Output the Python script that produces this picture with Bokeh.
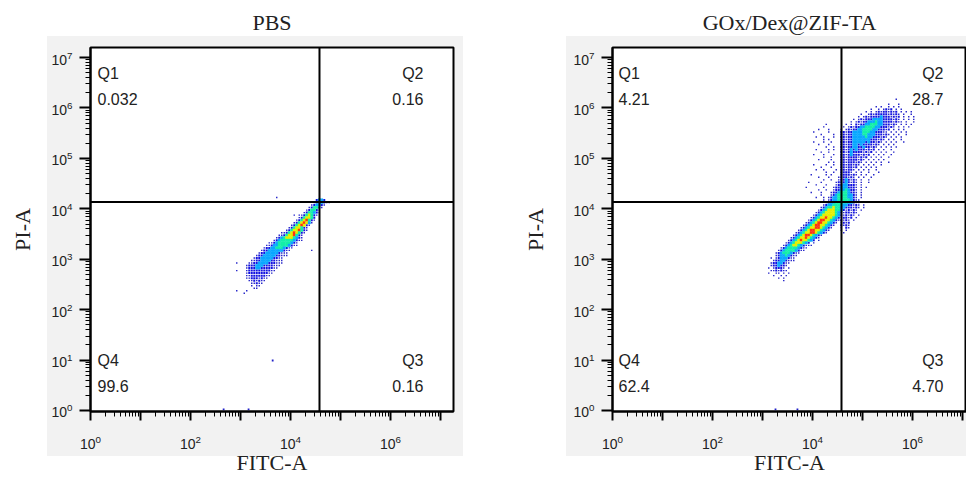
from bokeh.plotting import figure
from bokeh.models import Span, FixedTicker, ColumnDataSource, Title
from bokeh.layouts import row
from bokeh.embed import file_html
from bokeh.resources import INLINE
from bokeh.core.properties import value

# ---------------- data ----------------
TITLES = ["PBS", "GOx/Dex@ZIF-TA"]
X_LABEL = "FITC-A"
Y_LABEL = "PI-A"
QUAD_NAMES = ["Q1", "Q2", "Q3", "Q4"]
PBS_PCT = ["0.032", "0.16", "0.16", "99.6"]
GOX_PCT = ["4.21", "28.7", "4.70", "62.4"]
GATE_X = 38000
GATE_Y = 13600
MAJOR_TICKS = [1, 10, 100, 1e3, 1e4, 1e5, 1e6, 1e7]
X_HIDDEN_LABELS = [10, 1e3, 1e5, 1e7]

# density map: (log10 of column-0 left edge, log10 of row-0 top edge, cell size in decades)
# each row entry: (row index, first column, density levels; '.' empty, 1 sparse .. 6 densest)
PBS_GRID = (2.70, 4.35, 0.05)
PBS_ROWS = [
    (2, 20, "1"),
    (3, 36, "2332"),
    (4, 35, "1233211"),
    (5, 34, "123321"),
    (6, 33, "124421"),
    (7, 32, "124421"),
    (8, 31, "1244321"),
    (9, 27, "1.11245421"),
    (10, 29, "1245542"),
    (11, 28, "12456421"),
    (12, 27, "12456531"),
    (13, 26, "12456521"),
    (14, 25, "12455421"),
    (15, 24, "124556421"),
    (16, 22, "1124565421"),
    (17, 21, "1124556421"),
    (18, 20, "12345554321"),
    (19, 19, "123444443211"),
    (20, 17, "112344444321"),
    (21, 16, "1123344443211"),
    (22, 15, "122334443211"),
    (23, 14, "122333333211"),
    (23, 34, "1"),
    (24, 13, "122333332111"),
    (25, 12, "1223333322111"),
    (26, 11, "122333332211"),
    (27, 10, "1122333322111"),
    (28, 4, "1"),
    (28, 9, "11223333222111"),
    (29, 8, "12223332222111"),
    (30, 8, "1222332222211"),
    (31, 4, "1"),
    (31, 8, "122222222211"),
    (32, 8, "12222222211"),
    (33, 8, "1122222211"),
    (34, 8, "112221211"),
    (35, 9, "1121211"),
    (36, 10, "11211"),
    (37, 10, "1.11"),
    (38, 11, "11"),
    (39, 4, "1"),
    (39, 8, "1"),
    (40, 7, "1"),
]
PBS_OUT_X = [4400, 460, 1450]
PBS_OUT_Y = [9.8, 1.05, 1.05]

GOX_GRID = (3.00, 6.40, 0.05)
GOX_ROWS = [
    (4, 53, "1"),
    (6, 50, "1...1"),
    (7, 45, "1.1..1.1.1"),
    (8, 43, "1..1.1212.1.1"),
    (9, 41, "1.1.121221212.1.1.1"),
    (10, 39, "1..1212222212121.1..1"),
    (11, 38, "1.121222232221212.1.1.1"),
    (12, 36, "1.12122233332222121.1.1.1"),
    (13, 35, "1.1212233343322221211.1..1"),
    (14, 33, "1.1.21223344433222121.1.1.1"), (14, 25, "1"),
    (15, 32, "1.1212233444433222121.1.1"), (15, 58, "1"), (15, 24, "1"),
    (16, 31, "1.121223344443322212.1.1.1"), (16, 22, "1...1"),
    (17, 31, "2212233334443322211.1.1.1"), (17, 57, "1"), (17, 20, "1.....1"),
    (18, 31, "22122333344333222121.1.1"), (18, 57, "1"), (18, 23, "1....1"),
    (19, 31, "2212233333433222121.1.1.1"), (19, 21, "1..1...1"),
    (20, 31, "221223333333222121.1.1..1"), (20, 24, "1.1"),
    (21, 31, "22122333332322121.1.1.1"), (21, 56, "1"), (21, 20, "1...1..1"),
    (22, 31, "2212233232222121.1.1.1"), (22, 22, "1...1"),
    (23, 31, "221223322322121.1.1.1.1"), (23, 25, "1..1"),
    (24, 31, "22123232221212.1.1..1"), (24, 21, "1....1.1"),
    (25, 31, "2212322221212.1.1.1"), (25, 52, "1"), (25, 23, "1..1"),
    (26, 31, "221232221212.1.1.1"), (26, 51, "1"), (26, 20, "1...1...1"),
    (27, 31, "22122221212.1.1.1"), (27, 50, "1"), (27, 24, "1..1"),
    (28, 31, "2212222121.1.1.1.1"), (28, 22, "1....1"),
    (29, 31, "221222121.1.1.1.1"), (29, 50, "1"), (29, 26, "1.1"),
    (30, 31, "22122121.1.1.1"), (30, 47, "1"), (30, 20, "1....1..1"),
    (31, 31, "2212212.1.1.1.1"), (31, 23, "1...1"),
    (32, 31, "221221.1.1.1"), (32, 45, "1"), (32, 21, "1..1....1"),
    (33, 31, "22221.1.1..1"), (33, 46, "1"), (33, 25, "1..1"),
    (34, 31, "2222121.1.1"), (34, 44, "1"), (34, 19, "1.....1.1"),
    (35, 30, "1222121.1.1"), (35, 43, "1"), (35, 22, "1...1"),
    (36, 30, "12232121.1"), (36, 42, "1"), (36, 24, "1..1"),
    (37, 29, "122232121.1"), (37, 42, "1"), (37, 18, "1....1"),
    (38, 29, "122332221.1"), (38, 21, "1...1"),
    (39, 28, "1223332221.1"), (39, 41, "1"), (39, 17, "1......1"),
    (40, 28, "1223343221.1"), (40, 22, "1..1"),
    (41, 27, "12234443221.1"), (41, 19, "1...1"),
    (42, 27, "12344443321.1"), (42, 23, "1"),
    (43, 26, "123344443321"), (43, 39, "1"), (43, 21, "1..1"),
    (44, 26, "1233444443211"), (44, 24, "1"),
    (45, 25, "12334444433211"),
    (46, 24, "12334444332"), (46, 35, "2121.1"),
    (47, 23, "12344544332"), (47, 34, "22121.1"),
    (48, 22, "123455544321"), (48, 34, "2121.1"),
    (49, 21, "123455554321"), (49, 33, "22121"),
    (50, 20, "1234555554321"), (50, 33, "2121.1"),
    (51, 19, "1234556554321"), (51, 32, "2212.1"),
    (52, 18, "1234566554321"), (52, 31, "2121.1"),
    (53, 17, "1234566554321"), (53, 31, "1212"),
    (54, 16, "1234566554321"), (54, 31, "2121"),
    (55, 15, "1234556654321"), (55, 31, "1.21"),
    (56, 14, "1234566554321"), (56, 31, "1.1"),
    (57, 13, "1234556654321"), (57, 32, "1"),
    (58, 12, "123456654321"),
    (59, 11, "123455654321"),
    (60, 10, "12345655432.1"),
    (61, 9, "1234555432.1"),
    (62, 8, "123455432111"),
    (63, 7, "12344443211"),
    (64, 6, "12344443211"),
    (65, 5, "1234443211"),
    (66, 5, "123343211"),
    (67, 3, "1.12333211"),
    (68, 4, "122332111"),
    (69, 3, "12233211"),
    (70, 3, "1223221"),
    (71, 2, "1.12221.1"),
    (72, 3, "1121211"),
    (73, 2, "1..11.1.1"),
    (74, 4, "1..1.1"),
    (75, 6, "1.1"),
    (76, 8, "1"),
]
GOX_OUT_X = [1820, 5000]
GOX_OUT_Y = [1.05, 1.05]

# ---------------- styling ----------------
LEVEL_COLORS = {3: "#0aa8ff", 4: "#14f0a8", 5: "#e6f000", 6: "#ff3214"}
DOT_SIZES = {1: 1.4, 2: 2.0}
DOT_COLORS = {1: "#2020c8", 2: "#1212e0"}
GRAY = "#f2f2f2"
SERIF = "Liberation Serif"
SANS = "Liberation Sans"
INK = "#222222"


def grid_sources(grid, rows):
    x0, ytop, d = grid
    q = dict(left=[], right=[], top=[], bottom=[], color=[])
    dots = dict(x=[], y=[], size=[], color=[])
    for r, c0, s in rows:
        for k, ch in enumerate(s):
            if ch == ".":
                continue
            c = c0 + k
            lev = int(ch)
            if lev <= 2:
                dots["x"].append(10 ** (x0 + (c + 0.5) * d))
                dots["y"].append(10 ** (ytop - (r + 0.5) * d))
                dots["size"].append(DOT_SIZES[lev])
                dots["color"].append(DOT_COLORS[lev])
            else:
                q["left"].append(10 ** (x0 + c * d))
                q["right"].append(10 ** (x0 + (c + 1) * d))
                q["top"].append(10 ** (ytop - r * d))
                q["bottom"].append(10 ** (ytop - (r + 1) * d))
                q["color"].append(LEVEL_COLORS[lev])
    return ColumnDataSource(q), ColumnDataSource(dots)


def panel(title, pct, grid, rows, out_x, out_y, width, b_left, b_right, x_end_log,
          qx_left_log, qx_right_log, gray_x, gray_w, title_offset, ylab_standoff):
    p = figure(width=width, height=481, x_axis_type="log", y_axis_type="log",
               x_range=(1, 10 ** x_end_log), y_range=(10 ** -0.02, 10 ** 7.2),
               output_backend="svg", toolbar_location=None,
               min_border_left=b_left, min_border_right=b_right,
               min_border_top=47, min_border_bottom=70,
               background_fill_color="white", border_fill_color=None,
               outline_line_color="black", outline_line_width=2,
               styles={"background-image": f"linear-gradient({GRAY}, {GRAY})",
                       "background-position": f"{gray_x}px 36px",
                       "background-size": f"{gray_w}px 420px",
                       "background-repeat": "no-repeat"})
    p.grid.visible = False

    p.title.text = title
    p.title.text_font = SERIF
    p.title.text_font_size = "22px"
    p.title.text_font_style = "normal"
    p.title.text_color = INK
    p.title.align = "center"
    p.title.offset = title_offset
    # small empty spacer between the frame and the title, lifting the title a little
    p.add_layout(Title(text=" ", text_font_size="5px", standoff=0), "above")

    minor = [m * 10 ** e for e in range(0, 8) for m in range(2, 10)]
    for ax in (p.xaxis[0], p.yaxis[0]):
        ax.ticker = FixedTicker(ticks=MAJOR_TICKS, minor_ticks=minor)
        ax.axis_line_width = 2
        ax.axis_line_color = "black"
        ax.major_tick_line_width = 2
        ax.minor_tick_line_width = 1
        ax.major_tick_in = 0
        ax.minor_tick_in = 0
        ax.minor_tick_out = 5
        ax.major_label_text_font = SANS
        ax.major_label_text_font_size = "14px"
        ax.major_label_text_color = INK
        ax.axis_label_text_font = SERIF
        ax.axis_label_text_font_size = "22px"
        ax.axis_label_text_font_style = "normal"
        ax.axis_label_text_color = INK
    p.xaxis.major_tick_out = 9
    p.yaxis.major_tick_out = 11
    p.xaxis.major_label_standoff = 14
    p.yaxis.major_label_standoff = 7
    p.xaxis.major_label_overrides = {v: "" for v in X_HIDDEN_LABELS}
    p.xaxis.axis_label = X_LABEL
    p.yaxis.axis_label = Y_LABEL
    p.xaxis.axis_label_standoff = -2
    p.yaxis.axis_label_standoff = ylab_standoff

    qsrc, dsrc = grid_sources(grid, rows)
    p.scatter("x", "y", source=dsrc, marker="square", size="size",
              color="color", line_color=None)
    p.scatter(out_x, out_y, marker="square", size=1.8, color=DOT_COLORS[1], line_color=None)
    p.quad(left="left", right="right", top="top", bottom="bottom", source=qsrc,
           fill_color="color", line_color="color", line_width=0.4)

    p.add_layout(Span(location=GATE_X, dimension="height", line_color="black", line_width=2))
    p.add_layout(Span(location=GATE_Y, dimension="width", line_color="black", line_width=2))

    xl, xr = 10 ** qx_left_log, 10 ** qx_right_log
    y_name_top, y_val_top, y_name_bot, y_val_bot = 10 ** 6.69, 10 ** 6.17, 10 ** 0.99, 10 ** 0.48
    common = dict(text_baseline="middle", text_font=value(SANS),
                  text_font_size="16px", text_color=INK)
    p.text(x=[xl, xl], y=[y_name_top, y_val_top], text=[QUAD_NAMES[0], pct[0]],
           text_align="left", **common)
    p.text(x=[xr, xr], y=[y_name_top, y_val_top], text=[QUAD_NAMES[1], pct[1]],
           text_align="right", **common)
    p.text(x=[xr, xr], y=[y_name_bot, y_val_bot], text=[QUAD_NAMES[2], pct[2]],
           text_align="right", **common)
    p.text(x=[xl, xl], y=[y_name_bot, y_val_bot], text=[QUAD_NAMES[3], pct[3]],
           text_align="left", **common)
    return p


p1 = panel(TITLES[0], PBS_PCT, PBS_GRID, PBS_ROWS, PBS_OUT_X, PBS_OUT_Y,
           width=500, b_left=90, b_right=47, x_end_log=7.26,
           qx_left_log=0.14, qx_right_log=6.66, gray_x=47, gray_w=416,
           title_offset=-11, ylab_standoff=13)
p2 = panel(TITLES[1], GOX_PCT, GOX_GRID, GOX_ROWS, GOX_OUT_X, GOX_OUT_Y,
           width=466, b_left=112, b_right=0, x_end_log=7.08,
           qx_left_log=0.12, qx_right_log=6.62, gray_x=66, gray_w=400,
           title_offset=16, ylab_standoff=22)

layout = row(p1, p2)
open("out.html", "w").write(file_html(layout, INLINE))
